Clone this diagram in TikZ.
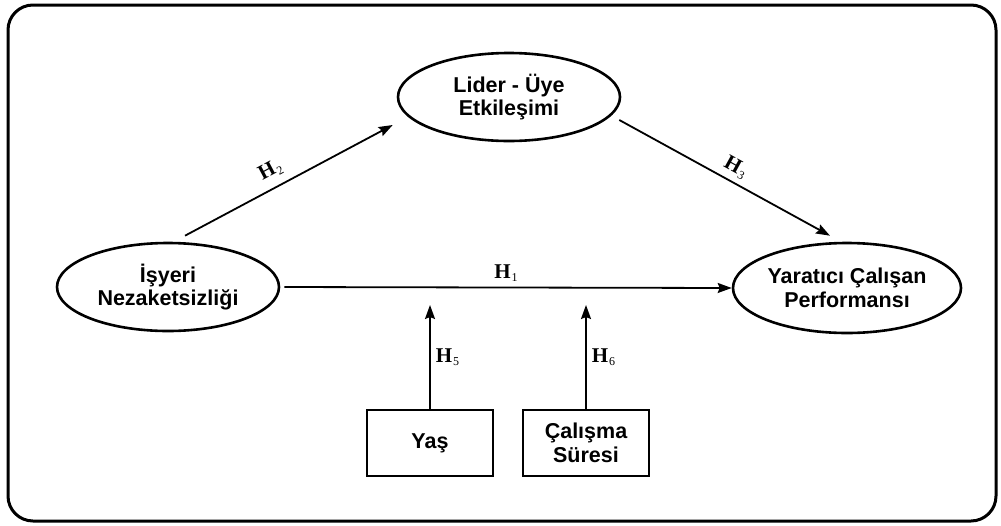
\documentclass[tikz,border=0pt]{standalone}
\usepackage{fontspec}
\setmainfont{Liberation Sans}
\newfontfamily\hfont{Liberation Serif}
\usetikzlibrary{shapes}
\usetikzlibrary{arrows.meta}
\newcommand{\hip}[1]{{\hfont\bfseries H}\kern1pt\raisebox{-3pt}{\hfont\fontsize{12}{12}\selectfont #1}}

\begin{document}
\begin{tikzpicture}[x=1pt,y=-1pt]
			\tikzstyle{degisken}=[ellipse,draw,line width=2.6pt,minimum width=222pt,minimum height=88pt,inner sep=0pt,align=center,font=\fontsize{21.5}{23.5}\selectfont\bfseries]
			\tikzstyle{kutu}=[rectangle,draw,line width=2.6pt,minimum width=126pt,minimum height=66pt,inner sep=0pt,align=center,font=\fontsize{21.5}{23.5}\selectfont\bfseries]
			\tikzstyle{yol}=[-{Stealth[length=14pt,width=10pt,inset=2pt]},line width=1.8pt]
			\tikzstyle{etiket}=[font=\fontsize{21}{22}\selectfont,inner sep=2pt]
			
			\useasboundingbox (0,0) rectangle (1001,525);
			\draw[line width=3pt,rounded corners=25pt] (8,5) rectangle (996,521);
			
			\node[degisken] (lmx) at (509,97) {Lider - Üye\\Etkileşimi};
			\node[degisken] (isyeri) at (168,287) {İşyeri\\Nezaketsizliği};
			\node[degisken,minimum width=228pt,minimum height=90pt] (yaratici) at (847,288) {Yaratıcı Çalışan\\Performansı};
			\node[kutu] (yas) at (430,443) {Yaş};
			\node[kutu] (calisma) at (586,443) {Çalışma\\Süresi};
			\coordinate (uc5) at (430,305);
			\coordinate (uc6) at (586,305);
			
			\draw[yol] ([shift={(17,-6)}]isyeri.north) -- ([shift={(-4,28)}]lmx.west) node[etiket,pos=0.45,above=6pt,sloped] {\hip{2}};
			\draw[yol] ([shift={(-2,23)}]lmx.east) -- ([shift={(-17,-6)}]yaratici.north) node[etiket,pos=0.52,above=3pt,sloped] {\hip{3}};
			\draw[yol,shorten <=4pt] (isyeri.east) -- (yaratici.west) node[etiket,midway,above=3pt] {\hip{1}};
			\draw[yol] (yas.north) -- (uc5) node[etiket,midway,right=3pt] {\hip{5}};
			\draw[yol] (calisma.north) -- (uc6) node[etiket,midway,right=3pt] {\hip{6}};
\end{tikzpicture}
\end{document}
